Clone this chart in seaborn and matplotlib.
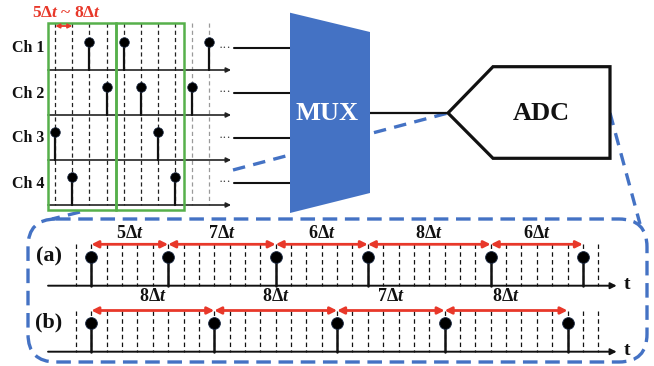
import numpy as np
import pandas as pd
import matplotlib
matplotlib.use("Agg")
import matplotlib.pyplot as plt
import seaborn as sns
from matplotlib.patches import Polygon, Rectangle, FancyBboxPatch, FancyArrowPatch

# ---------------- data ----------------
channels = ["Ch 1", "Ch 2", "Ch 3", "Ch 4"]
ch1_slots = [2, 4, 9]
ch2_slots = [3, 5, 8]
ch3_slots = [0, 6]
ch4_slots = [1, 7]
n_slots = 10            # sampling slots shown per channel
frame_size = 4          # slots per MUX frame (one per channel)
n_frames = 2
range_label = r"$5\Delta t$ ~ $8\Delta t$"

intervals_a = [5, 7, 6, 8, 6]   # spacing between samples, row (a)
intervals_b = [8, 8, 7, 8]      # spacing between samples, row (b)
first_sample = 1
n_grid = 35                      # Δt grid lines 0..34
row_labels = ["(a)", "(b)"]

# ---------------- style ----------------
sns.set_theme(style="white")
plt.rcParams["font.family"] = ["Liberation Serif", "DejaVu Serif"]
plt.rcParams["mathtext.fontset"] = "custom"
plt.rcParams["mathtext.rm"] = "Liberation Serif:bold"
plt.rcParams["mathtext.it"] = "Liberation Serif:italic:bold"
plt.rcParams["mathtext.bf"] = "Liberation Serif:bold"
plt.rcParams["lines.scale_dashes"] = False

BLUE = "#4472C4"
RED = "#E8382A"
GREEN = "#56B04B"
W, H = 654, 366

fig = plt.figure(figsize=(W / 100, H / 100), dpi=100)


def overlay(xmin, xmax):
    ax = fig.add_axes([0, 0, 1, 1])
    ax.set_xlim(xmin, xmax)
    ax.set_ylim(H, 0)
    ax.axis("off")
    ax.patch.set_alpha(0)
    return ax


# pixel-space canvas for the block diagram
ax0 = overlay(0, W)

# top panel: x in slot units
slot_px0, slot_px = 55.3, 17.08
axt = overlay(-slot_px0 / slot_px, (W - slot_px0) / slot_px)

# bottom panel: x in Δt units
dt_px0, dt_px = 76.0, 15.36
axb = overlay(-dt_px0 / dt_px, (W - dt_px0) / dt_px)

# ---------------- top panel: multichannel sampling ----------------
base_y = [70, 115, 160, 205]
stem_h = 28.5
slot_lists = [ch1_slots, ch2_slots, ch3_slots, ch4_slots]

for s in range(n_slots):
    col = "#222222" if s < n_frames * frame_size else "#9a9a9a"
    axt.plot([s, s], [23, base_y[-1]], color=col, lw=0.9,
             ls=(0, (3, 2.2)), zorder=1)

for k in range(n_frames):
    x0 = k * frame_size - 0.45
    axt.add_patch(Rectangle((x0, 23), frame_size, 187, fill=False,
                            ec=GREEN, lw=1.8, zorder=3))

rows = []
for name, by, slots in zip(channels, base_y, slot_lists):
    axt.add_patch(FancyArrowPatch((-0.43, by), (10.29, by), arrowstyle="-|>",
                                  mutation_scale=7, lw=1.2, color="#222222",
                                  shrinkA=0, shrinkB=0, zorder=2))
    for s in slots:
        axt.plot([s, s], [by - stem_h, by], color="#111111", lw=1.6, zorder=4)
        rows.append({"slot": s, "y": by - stem_h})
    axt.text(-1.6, by - 21.5, name, ha="center", va="center",
             fontsize=11.5, fontweight="bold", color="#111111")
    axt.text(9.95, by - 22.5, "···", ha="center", va="center",
             fontsize=9, color="#333333")
    ax0.plot([234, 290], [by - 22.5, by - 22.5], color="#111111", lw=1.5)

top_df = pd.DataFrame(rows)
sns.scatterplot(data=top_df, x="slot", y="y", ax=axt, color="black",
                s=48, edgecolor="#1c2b45", linewidth=0.5, zorder=5, legend=False)

axt.add_patch(FancyArrowPatch((0, 26), (1, 26), arrowstyle="<|-|>",
                              mutation_scale=6, lw=1.3, color=RED,
                              shrinkA=0, shrinkB=0, zorder=6))
axt.text(0.63, 13, range_label, ha="center", va="center", fontsize=12.5,
         fontweight="bold", color=RED)

# ---------------- MUX and ADC ----------------
ax0.plot([233, 448], [170, 113], color=BLUE, lw=2.4, ls=(0, (9, 6)), zorder=1)
ax0.plot([610, 640], [113, 224], color=BLUE, lw=2.4, ls=(0, (9, 6)), zorder=1)
ax0.plot([80, 52], [212, 219], color=BLUE, lw=2.4, ls=(0, (9, 6)), zorder=1)

ax0.add_patch(Polygon([(290, 12.7), (370, 32), (370, 193), (290, 213)],
                      closed=True, fc=BLUE, ec="none", zorder=3))
ax0.text(327, 113, "MUX", ha="center", va="center", fontsize=19,
         fontweight="bold", color="white", zorder=4)

ax0.plot([370, 448], [113.3, 113.3], color="#111111", lw=1.6, zorder=2)
ax0.add_patch(Polygon([(448, 113), (493, 66.7), (610, 66.7), (610, 158.3),
                       (493, 158.3)], closed=True, fc="white", ec="#111111",
                      lw=2.3, zorder=3))
ax0.text(541, 114, "ADC", ha="center", va="center", fontsize=19,
         fontweight="bold", color="#111111", zorder=4)

ax0.add_patch(FancyBboxPatch((28, 219), 619, 143,
                             boxstyle="round,pad=0,rounding_size=28",
                             fill=False, ec=BLUE, lw=2.4,
                             ls=(0, (10.5, 5.5)), zorder=1))

# ---------------- bottom panel: sampling intervals ----------------
row_geom = [
    {"base": 285.7, "top": 244.3, "dot": 256.7, "lab": 233.3},
    {"base": 351.7, "top": 310.5, "dot": 322.7, "lab": 296.7},
]

pts = []
for geom, ints, label in zip(row_geom, [intervals_a, intervals_b], row_labels):
    for g in range(n_grid):
        axb.plot([g, g], [geom["top"], geom["base"]], color="#111111", lw=0.9,
                 ls=(0, (3.2, 2.4)), zorder=1)
    axb.add_patch(FancyArrowPatch((-1.82, geom["base"]), (35.2, geom["base"]),
                                  arrowstyle="-|>", mutation_scale=9, lw=1.4,
                                  color="#111111", shrinkA=0, shrinkB=0, zorder=2))
    axb.text(35.85, geom["base"] - 1, "t", ha="center", va="center",
             fontsize=14, fontweight="bold", color="#111111")
    samples = first_sample + np.concatenate([[0], np.cumsum(ints)])
    for s in samples:
        axb.plot([s, s], [geom["dot"], geom["base"]], color="#111111", lw=1.8,
                 zorder=3)
        pts.append({"t": s, "y": geom["dot"]})
    for a, b, n in zip(samples[:-1], samples[1:], ints):
        axb.add_patch(FancyArrowPatch((a, geom["top"]), (b, geom["top"]),
                                      arrowstyle="<|-|>", mutation_scale=10,
                                      lw=2.0, color=RED, shrinkA=0, shrinkB=0,
                                      zorder=4))
        axb.text((a + b) / 2, geom["lab"], rf"${n}\Delta t$", ha="center",
                 va="center", fontsize=13, color="#111111")
    ax0.text(49, geom["dot"], label, ha="center", va="center", fontsize=16,
             fontweight="bold", color="#111111")

bot_df = pd.DataFrame(pts)
sns.scatterplot(data=bot_df, x="t", y="y", ax=axb, color="black", s=72,
                edgecolor="#1c2b45", linewidth=0.6, zorder=5, legend=False)

# restore the fixed extents after seaborn's autoscaling
for ax, lim in [(ax0, (0, W)),
                (axt, (-slot_px0 / slot_px, (W - slot_px0) / slot_px)),
                (axb, (-dt_px0 / dt_px, (W - dt_px0) / dt_px))]:
    ax.set_xlim(*lim)
    ax.set_ylim(H, 0)
    ax.axis("off")

fig.savefig("out.png", dpi=100)
